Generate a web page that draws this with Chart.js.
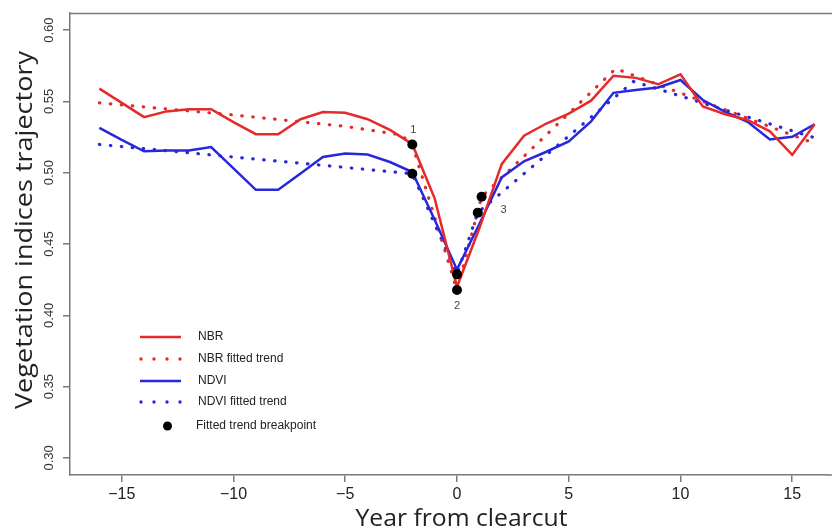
<!DOCTYPE html>
<html>
<head>
<meta charset="utf-8">
<script src="https://cdn.jsdelivr.net/npm/chart.js@4.4.1/dist/chart.umd.min.js"></script>
<style>
  html, body { margin: 0; padding: 0; background: #fff; }
  canvas { display: block; }
</style>
</head>
<body>
<canvas id="trajChart" width="832" height="531"></canvas>
<script>
// years relative to the clearcut
const years = [-16, -15, -14, -13, -12, -11, -10, -9, -8, -7, -6, -5, -4, -3, -2, -1,
               0, 1, 2, 3, 4, 5, 6, 7, 8, 9, 10, 11, 12, 13, 14, 15, 16];

// mean index trajectories
const nbr = [0.559, 0.549, 0.539, 0.543, 0.5445, 0.5445, 0.5355, 0.527, 0.527, 0.5375, 0.5425,
             0.542, 0.5375, 0.530, 0.520, 0.482, 0.420, 0.461, 0.506, 0.526, 0.5345, 0.5415,
             0.5505, 0.568, 0.5665, 0.562, 0.569, 0.5465, 0.541, 0.537, 0.529, 0.5125, 0.534];
const ndvi = [0.5315, 0.523, 0.515, 0.5155, 0.5155, 0.518, 0.503, 0.488, 0.488, 0.4995, 0.511,
              0.5135, 0.5128, 0.5075, 0.5005, 0.467, 0.432, 0.464, 0.4967, 0.508, 0.5147, 0.522,
              0.536, 0.556, 0.558, 0.5598, 0.565, 0.551, 0.5427, 0.5357, 0.5233, 0.5252, 0.534];

// fitted segmented trends (knots)
const nbrFitYears = [-16, -10, -5, -2.5, -2, 0, 1.1, 7.1, 16];
const nbrFit = [0.549, 0.5405, 0.5325, 0.5265, 0.5198, 0.4177, 0.4831, 0.573, 0.5205];
const ndviFitYears = [-16, -10, -5, -2, 0, 0.93, 7.9, 16];
const ndviFit = [0.5198, 0.511, 0.5037, 0.4993, 0.4287, 0.472, 0.564, 0.5245];

// breakpoints
const bpYearsNbr = [-2, 0, 1.1];
const bpNbr = [0.5198, 0.4177, 0.4831];
const bpYearsNdvi = [-2, 0, 0.93];
const bpNdvi = [0.4993, 0.4287, 0.472];
const bpLabels = ['1', '2', '3'];

const xTicks = [-15, -10, -5, 0, 5, 10, 15];
const yTicks = [0.30, 0.35, 0.40, 0.45, 0.50, 0.55, 0.60];

const RED = '#e52a2a';
const BLUE = '#2727dc';
const AXIS = '#7a7a7a';

const pts = (xs, ys) => xs.map((x, i) => ({ x: x, y: ys[i] }));

// draw text stretched to a given length along its direction
function fitText(c, txt, len) {
    const w = c.measureText(txt).width;
    c.save();
    c.scale(len / w, 1);
    c.fillText(txt, 0, 0);
    c.restore();
}

// R style extras: frame, rotated y labels, titles, legend, numbers
const extras = {
    id: 'extras',
    afterDraw(chart) {
        const c = chart.ctx;
        const a = chart.chartArea;
        const xs = chart.scales.x, ys = chart.scales.y;

        c.save();
        c.strokeStyle = AXIS;
        c.lineWidth = 1.5;
        c.beginPath();
        c.moveTo(a.left, a.top + 0.5);
        c.lineTo(chart.width, a.top + 0.5);
        c.moveTo(a.right, a.bottom);
        c.lineTo(chart.width, a.bottom);
        c.stroke();

        // y tick labels, rotated like R's default
        c.fillStyle = '#333';
        c.font = '13px "Liberation Sans", Arial, sans-serif';
        c.textAlign = 'center';
        c.textBaseline = 'alphabetic';
        yTicks.forEach(v => {
            c.save();
            c.translate(53, ys.getPixelForValue(v));
            c.rotate(-Math.PI / 2);
            c.fillText(v.toFixed(2), 0, 0);
            c.restore();
        });

        // axis titles
        c.fillStyle = '#222';
        c.font = '23px "Open Sans", sans-serif';
        c.save();
        c.translate(32, 230);
        c.rotate(-Math.PI / 2);
        fitText(c, 'Vegetation indices trajectory', 358);
        c.restore();
        c.font = '24px "Open Sans", sans-serif';
        c.save();
        c.translate(461.5, 526);
        fitText(c, 'Year from clearcut', 212);
        c.restore();

        // breakpoint numbers
        const offs = [[1, -15], [0, 16], [22, 13]];
        c.fillStyle = '#444';
        c.font = '11px "Liberation Sans", Arial, sans-serif';
        c.textBaseline = 'middle';
        bpLabels.forEach((t, i) => {
            const px = xs.getPixelForValue(bpYearsNbr[i]) + offs[i][0];
            const py = ys.getPixelForValue(bpNbr[i]) + offs[i][1];
            c.fillText(t, px, py);
        });

        // legend
        const ds = chart.data.datasets;
        const rows = [337, 359, 381, 402, 426];
        const order = ['NBR', 'NBR fitted trend', 'NDVI', 'NDVI fitted trend', 'Fitted trend breakpoint'];
        c.font = '12px "Liberation Sans", Arial, sans-serif';
        c.textAlign = 'left';
        order.forEach((lab, i) => {
            const d = ds.find(s => s.label === lab);
            const y = rows[i];
            if (lab === 'Fitted trend breakpoint') {
                c.fillStyle = '#000';
                c.beginPath();
                c.arc(167.5, y, 4.5, 0, Math.PI * 2);
                c.fill();
            } else if (d.borderDash) {
                c.fillStyle = d.borderColor;
                [141, 154, 167, 180].forEach(x => {
                    c.beginPath();
                    c.arc(x, y, 1.7, 0, Math.PI * 2);
                    c.fill();
                });
            } else {
                c.strokeStyle = d.borderColor;
                c.lineWidth = 2.5;
                c.beginPath();
                c.moveTo(140, y);
                c.lineTo(181, y);
                c.stroke();
            }
            c.fillStyle = '#222';
            c.fillText(lab, i === 4 ? 196 : 198, y);
        });
        c.restore();
    }
};

const ctx = document.getElementById('trajChart').getContext('2d');
new Chart(ctx, {
    type: 'line',
    data: {
        datasets: [
            {
                label: 'Fitted trend breakpoint',
                data: pts(bpYearsNbr, bpNbr).concat(pts(bpYearsNdvi, bpNdvi)),
                showLine: false,
                pointRadius: 5,
                pointBackgroundColor: '#000',
                pointBorderWidth: 0,
                order: 0
            },
            {
                label: 'NBR',
                data: pts(years, nbr),
                borderColor: RED,
                borderWidth: 2.5,
                pointRadius: 0,
                order: 1
            },
            {
                label: 'NDVI',
                data: pts(years, ndvi),
                borderColor: BLUE,
                borderWidth: 2.5,
                pointRadius: 0,
                order: 2
            },
            {
                label: 'NBR fitted trend',
                data: pts(nbrFitYears, nbrFit),
                borderColor: RED,
                borderWidth: 3.2,
                borderDash: [0.5, 10.5],
                borderCapStyle: 'round',
                pointRadius: 0,
                order: 3
            },
            {
                label: 'NDVI fitted trend',
                data: pts(ndviFitYears, ndviFit),
                borderColor: BLUE,
                borderWidth: 3.2,
                borderDash: [0.5, 10.5],
                borderCapStyle: 'round',
                pointRadius: 0,
                order: 4
            }
        ]
    },
    options: {
        responsive: false,
        animation: false,
        layout: { padding: { top: 13, right: 0, bottom: 0, left: 0 } },
        plugins: { legend: { display: false }, tooltip: { enabled: false } },
        scales: {
            x: {
                type: 'linear',
                min: -17.315,
                max: 16.555,
                afterBuildTicks: s => { s.ticks = xTicks.map(v => ({ value: v })); },
                afterFit: s => { s.height = 56; },
                grid: { drawOnChartArea: false, drawTicks: true, tickLength: 7, color: AXIS, lineWidth: 1.5 },
                border: { display: true, color: AXIS, width: 1.5 },
                ticks: {
                    padding: 3,
                    color: '#222',
                    font: { family: '"Liberation Sans", Arial, sans-serif', size: 16 },
                    callback: v => String(v).replace('-', '\u2212')
                }
            },
            y: {
                type: 'linear',
                min: 0.288,
                max: 0.612,
                afterBuildTicks: s => { s.ticks = yTicks.map(v => ({ value: v })); },
                afterFit: s => { s.width = 70; },
                grid: { drawOnChartArea: false, drawTicks: true, tickLength: 7, color: AXIS, lineWidth: 1.5 },
                border: { display: true, color: AXIS, width: 1.5 },
                ticks: { display: false }
            }
        }
    },
    plugins: [extras]
});
</script>
</body>
</html>
